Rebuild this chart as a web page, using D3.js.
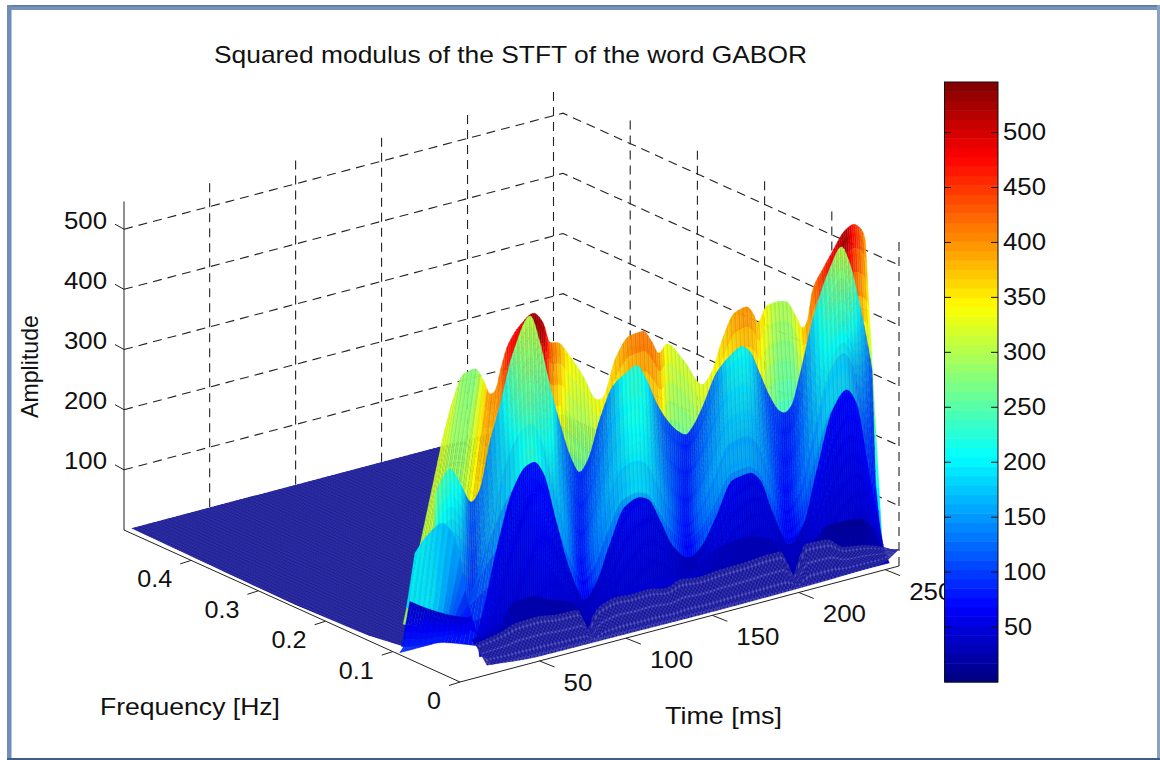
<!DOCTYPE html>
<html><head><meta charset="utf-8">
<script src="https://cdn.jsdelivr.net/npm/d3@7/dist/d3.min.js"></script>
<style>html,body{margin:0;padding:0;background:#fff;overflow:hidden}svg{display:block}text{font-family:"Liberation Sans",Arial,sans-serif;fill:#111}</style>
</head><body><svg id="c" width="1160" height="760"></svg>
<script>
// ---- tick labels and titles
const titleText = "Squared modulus of the STFT of the word GABOR";
const timeTicks = [50,100,150,200,250];
const freqTicks = [0,0.1,0.2,0.3,0.4];
const ampTicks = [100,200,300,400,500];
const barTicks = [50,100,150,200,250,300,350,400,450,500];
const wallFreqs = [0,0.1,0.2,0.3,0.4];
const ampMax = 546;

// ---- crest A (rear ridge)
const tA=[13.7,19.5,25.3,32,36.8,41.1,43.6,47.4,51.3,58,65.7,71.5,75.4,80.2,86.9,94.6,102.4,105.3,113.9,121.6,129.3,134.2,138.6,142.9,152.5,164,168.9,175.6,182.3,189.1,192.9,195.8,200.6,206.4,212.2,217.9,221.8,224.1,227.5,233.3,239.1,245.9,250.7,256,258];
const zA=[376,433,470,474,453,425,428,467,500,526,541,521,485,481,454,415,370,368,433,461,463,443,419,431,398,348,364,417,453,458,445,426,450,453,449,420,398,405,458,487,513,541,548,535,517];
const cA=[320,325,285,275,330,400,400,420,470,490,540,530,440,400,345,330,335,345,380,410,420,420,400,340,320,330,340,370,395,405,400,375,340,305,300,330,370,390,420,460,490,535,480,430,390];
const tAf=[8,30,42,55,70,258], fAf=[.095,.09,.06,.024,.024,.024], zAf=[45,20,4,5,5,5], cAf=[290,310,290,200,150,150];
// ---- crest B
const tB=[4,6,13.7,19.5,26.3,31,36.8,42.6,50.3,60,65.8,71.5,77.3,84.1,88.9,93.7,100.4,108.1,115.8,121.6,127.4,133.2,139,145.7,150.5,154.4,160.1,167.9,175.6,182.3,187.1,192.9,198.7,204.5,207.4,211.2,216,223.7,233.4,240.1,244.9,249.7,254.6,258];
const zB=[278,298,326,299,262,279,353,409,492,546,497,421,355,289,264,282,343,393,409,417,389,346,314,289,280,291,320,369,391,402,391,350,307,278,273,281,327,416,492,524,494,435,364,306];
const cB=[330,260,230,210,115,130,150,185,270,305,290,240,150,110,90,100,120,165,215,225,200,145,110,100,85,95,115,145,195,205,195,145,105,95,85,90,115,185,270,305,290,215,150,110];
// ---- shoulder inside B, just above crest C
const tBm=[4,15,25.6,30.1,36.8,46.4,54.2,58.4,63.8,71.5,79.2,87.9,94.6,101.9,111.2,118.7,124.5,131.2,138.9,148.6,155.3,164,173.6,183.3,189,196.7,206.4,214.1,221.8,231.4,239.1,244.9,252.6,258];
const zBm=[120,120,105,150,235,330,365,370,345,255,170,110,135,195,255,262,255,215,165,135,150,195,250,255,240,178,115,140,225,325,350,325,195,120];
const cBm=[130,130,90,130,160,190,225,235,215,175,150,75,125,155,180,195,190,165,130,75,120,150,165,165,155,130,70,110,150,190,190,165,100,75];
const tBf=[4,25,38,50,88,121,150,183,207,240,258], fBf=[.09,.09,.06,.02,.024,.024,.024,.024,.024,.024,.024], zBf=[3,3,4,5,5,5,5,5,5,5,5], cBf=[90,70,70,80,50,80,50,80,50,70,50];
// ---- left hump L
const tL=[5.1,11.9,20.5,26.3,31.1,35.9,41], zL=[178,201,216,198,153,71,17], cL=[200,190,175,165,150,90,50];
const tLf=[8,20,41], zLf=[75,55,20], cLf=[190,190,60];
// ---- left low shelf
const tS=[8,17.8,33.1,43.7], zS=[88,69,45,33], cS=[38,40,42,50];
const tSf=[5.2,17.6,29.2,44.6], zSf=[12,6,5,5], cSf=[85,85,85,70];
// ---- crest C
const tC=[25.6,30.1,36.8,46.4,54.2,58.4,63.8,71.5,79.2,87.9,94.6,101.9,111.2,118.7,124.5,131.2,138.9,148.6,155.3,164,173.6,183.3,189,196.7,206.4,214.1,221.8,231.4,239.1,244.9,252.6,256.5];
const zC=[49,96,180,273,306,309,287,198,114,58,80,136,195,204,197,158,108,81,95,139,192,196,181,119,59,84,167,265,292,266,138,79];
const cC=[50,60,60,65,70,75,75,60,50,35,40,50,60,60,55,50,40,30,40,55,60,55,55,45,30,40,60,65,70,70,70,70];
const tCf=[23,258], zCf=[17,6], cCf=[40,35];
// ---- crest D
const tD=[16.5,32.9,40.6,50.2,61.8,73.4,82,94.6,110,125.4,138.9,148.5,158.2,173.6,187.1,200.5,212.1,223.7,241,248.7,253.9];
const zD=[53,65,96,99,85,73,58,66,70,70,65,74,95,103,92,68,65,87,84,62,30];
const cD=[40,35,25,25,22,25,40,45,50,50,45,40,35,30,30,40,35,15,12,25,40];
const tDf=[24,254], zDf=[12,6], cDf=[30,30];
// ---- front mesh E
const tE=[16,30.2,40.1,51.6,63.2,74.8,78,81,84,88,97.9,105.4,115.2,126.8,134.3,145.9,157.4,170.7,184.6,192,196.5,200,203,207,219.3,228.5,240,251.7,258];
const zE=[50,58,67,68,63,62,45,24,45,58,66,64,65,59,67,63,66,67,70,70,48,24,48,71,69,50,44,32,22];
const tEf=[19.6,50,100,150,200,240,248.5,258], zEf=[16,8,7,6,7,10,12,28];

// ---- scales of the oblique projection
const xT=d3.scaleLinear([4,258],[460,899]), yT=d3.scaleLinear([4,258],[682,566]);
const xF=d3.scaleLinear([0,.5],[0,-336]), yF=d3.scaleLinear([0,.5],[0,-152]);
const zS_=d3.scaleLinear([0,ampMax],[0,-328.5]);
const xWall=d3.scaleLinear([0,250],[123.7,553.5]);
const barY=d3.scaleLinear([0,ampMax],[682,82]);
const px=(t,f)=>xT(t)+xF(f), py=(t,f,z)=>yT(t)+yF(f)+zS_(z);

const clamp=v=>Math.max(0,Math.min(1,v));
function jet(c){const v=clamp(c/ampMax);return [clamp(1.5-Math.abs(4*v-3)),clamp(1.5-Math.abs(4*v-2)),clamp(1.5-Math.abs(4*v-1))];}
const css=(a,k=1)=>`rgb(${a.map(x=>Math.round(x*255*k)).join(",")})`;

// monotone resampling of a read curve for tessellation
function mono(xs,ys){
  const n=xs.length; if(n<2)return ()=>ys[0];
  const h=[],s=[];for(let i=0;i<n-1;i++){h[i]=xs[i+1]-xs[i];s[i]=(ys[i+1]-ys[i])/h[i];}
  const m=[s[0]];for(let i=1;i<n-1;i++){m[i]=s[i-1]*s[i]<=0?0:2*s[i-1]*s[i]/(s[i-1]+s[i]);}m[n-1]=s[n-2];
  return x=>{x=Math.max(xs[0],Math.min(xs[n-1],x));let i=d3.bisectRight(xs,x)-1;if(i>=n-1)i=n-2;
    const d=(x-xs[i])/h[i],d2=d*d,d3_=d2*d;
    return (2*d3_-3*d2+1)*ys[i]+(d3_-2*d2+d)*h[i]*m[i]+(-2*d3_+3*d2)*ys[i+1]+(d3_-d2)*h[i]*m[i+1];};
}
function row(t,f,z,c){
  const fz=mono(t,z),fc=mono(t,c||t.map(()=>5)),ff=Array.isArray(f)?mono(t,f):()=>f;
  const a=t[0],b=t[t.length-1];
  return u=>{const q=a+(b-a)*u,ffv=ff(q);return {x:px(q,ffv),y:py(q,ffv,fz(q)),c:fc(q)};};
}
const svg=d3.select("#c");

// ---- window frame
svg.append("rect").attr("width",1160).attr("height",760).attr("fill","#fff");
svg.append("rect").attr("x",7).attr("y",5).attr("width",1153).attr("height",5).attr("fill","#7793ba");
svg.append("rect").attr("x",7).attr("y",5).attr("width",1153).attr("height",1.5).attr("fill","#5b7ba6");
svg.append("rect").attr("x",7).attr("y",5).attr("width",4.5).attr("height",755).attr("fill","#6f8db5");
svg.append("rect").attr("x",1157).attr("y",5).attr("width",3).attr("height",755).attr("fill","#8ba3c3");
svg.append("rect").attr("x",7).attr("y",758).attr("width",1153).attr("height",2).attr("fill","#3f5f88");

// ---- grid walls
const grid=svg.append("g").attr("fill","none").attr("stroke","#222").attr("stroke-width",1.1).attr("stroke-dasharray","9 6");
const wallLeft=(x,z)=>py(4,.5,z)-(x-xT(4)-xF(.5))*0.2652;
ampTicks.forEach(a=>{
  grid.append("path").attr("d",d3.line()([[px(4,.5),py(4,.5,a)],[px(258,.5),py(258,.5,a)],[px(258,0),py(258,0,a)]]));
});
timeTicks.forEach(t=>{const x=xWall(t);
  grid.append("line").attr("x1",x).attr("x2",x).attr("y1",wallLeft(x,0)).attr("y2",wallLeft(x,ampMax));});
wallFreqs.forEach(f=>{
  grid.append("line").attr("x1",px(258,f)).attr("x2",px(258,f)).attr("y1",py(258,f,0)).attr("y2",py(258,f,ampMax));});

// ---- axes
const ax=svg.append("g").attr("stroke","#222").attr("stroke-width",1).attr("fill","none");
ax.append("path").attr("d",d3.line()([[px(4,.5),py(4,.5,ampMax)],[px(4,.5),py(4,.5,0)],[px(4,0),py(4,0,0)],[px(258,0),py(258,0,0)]]));
timeTicks.forEach(t=>ax.append("line").attr("x1",px(t,0)).attr("y1",py(t,0,0)).attr("x2",px(t,0)+15).attr("y2",py(t,0,0)+6));
freqTicks.forEach(f=>ax.append("line").attr("x1",px(4,f)).attr("y1",py(4,f,0)).attr("x2",px(4,f)-11).attr("y2",py(4,f,0)+3.5));
ampTicks.forEach(a=>ax.append("line").attr("x1",px(4,.5)).attr("y1",py(4,.5,a)).attr("x2",px(4,.5)-9).attr("y2",py(4,.5,a)-5));

// ---- floor plane (navy mesh)
const floorEdge=[[8,.5],[258,.5],[258,.09],[12,.105],[8,.148],[6,.25]];
const floorD=d3.line()(floorEdge.map(([t,f])=>[px(t,f),py(t,f,0)]))+"Z";
svg.append("clipPath").attr("id","fl").append("path").attr("d",floorD);
const floor=svg.append("g").attr("clip-path","url(#fl)");
floor.append("path").attr("fill","#2c2ca2").attr("d",floorD);
const meshF=d3.range(.09,.5,.0035), meshT=d3.range(6,258,2.4);
floor.append("path").attr("fill","none").attr("stroke","#14147e").attr("stroke-width",.7).attr("stroke-opacity",.8).attr("stroke-dasharray","3 2")
  .attr("d",meshF.map(f=>`M${px(6,f)},${py(6,f,0)}L${px(258,f)},${py(258,f,0)}`).join(""));
floor.append("path").attr("fill","none").attr("stroke","#3c3cb4").attr("stroke-width",.5).attr("stroke-opacity",.6)
  .attr("d",meshT.map(t=>`M${px(t,.5)},${py(t,.5,0)}L${px(t,.09)},${py(t,.09,0)}`).join(""));

// ---- surface strips painted back to front
function strip(top,bot,nc,nr,opt={}){
  const g=svg.append("g"),cells=[];
  for(let i=0;i<nc;i++){const u0=i/nc,u1=(i+1)/nc,T0=top(u0),T1=top(u1),B0=bot(u0),B1=bot(u1);
    for(let j=0;j<nr;j++){const v0=j/nr,v1=(j+1)/nr,L=(a,b,v)=>a+(b-a)*v;
      const vm=(v0+v1)/2,c=(T0.c+T1.c)/2*(1-vm)+(B0.c+B1.c)/2*vm;
      let fill;
      if(opt.mesh){const band=j%5===2&&j<nr-2; fill=band?((i%2)?"#5858bc":"#2c2ca4"):((i+j)%2?"#1a1a92":"#3636b0");}
      else fill=css(jet(c),i%2?1:.93);
      cells.push({d:`M${L(T0.x,B0.x,v0)},${L(T0.y,B0.y,v0)}L${L(T1.x,B1.x,v0)},${L(T1.y,B1.y,v0)}L${L(T1.x,B1.x,v1)},${L(T1.y,B1.y,v1)}L${L(T0.x,B0.x,v1)},${L(T0.y,B0.y,v1)}Z`,fill});
    }}
  g.selectAll("path").data(cells).join("path").attr("d",d=>d.d).attr("fill",d=>d.fill).attr("stroke",d=>d.fill).attr("stroke-width",.3);
}
strip(row(tA,.05,zA,cA),row(tAf,fAf,zAf,cAf),212,14);
const rowBm=row(tBm,.035,zBm,cBm);
strip(row(tB,.04,zB,cB),rowBm,220,10);
strip(rowBm,row(tBf,fBf,zBf,cBf),220,5);
strip(row(tL,.07,zL,cL),row(tLf,.09,zLf,cLf),22,10);
strip(row(tS,.085,zS,cS),row(tSf,.09,zSf,cSf),24,6);
strip(row(tC,.03,zC,cC),row(tCf,.02,zCf,cCf),195,12);
strip(row(tD,.015,zD,cD),row(tDf,.004,zDf,cDf),200,6);
strip(row(tE,.008,zE),row(tEf,0,zEf),230,16,{mesh:true});

// ---- text
function label(x,y,s,len,rot){
  const t=svg.append("text").attr("font-size",24).attr("textLength",len).attr("lengthAdjust","spacingAndGlyphs").text(s);
  if(rot)t.attr("transform",`translate(${x},${y}) rotate(-90)`);else t.attr("x",x).attr("y",y);
}
label(214,63,titleText,593);
label(100,715,"Frequency [Hz]",180);
label(665,724,"Time [ms]",117);
label(38,418,"Amplitude",103,true);
ampTicks.forEach(a=>label(64,py(4,.5,a)-0.5,String(a),43));
timeTicks.forEach(t=>label(px(t,0)+24,py(t,0,0)+30,String(t),String(t).length*14.4));
freqTicks.forEach(f=>{const s=String(f),len=f===0?14:35;label(px(4,f)-19-len,py(4,f,0)+27,s,len);});

// ---- colour bar
const bar=svg.append("g");
const levels=d3.range(64);
bar.selectAll("rect").data(levels).join("rect")
  .attr("x",944.5).attr("width",53.5)
  .attr("y",d=>barY((d+1)/64*ampMax)).attr("height",d=>barY(d/64*ampMax)-barY((d+1)/64*ampMax)+.5)
  .attr("fill",d=>css(jet((d+.5)/64*ampMax)));
bar.append("rect").attr("x",944.5).attr("y",82).attr("width",53.5).attr("height",600).attr("fill","none").attr("stroke","#111").attr("stroke-width",1);
barTicks.forEach(b=>{
  bar.append("line").attr("x1",944.5).attr("x2",951).attr("y1",barY(b)).attr("y2",barY(b)).attr("stroke","#111");
  bar.append("line").attr("x1",991).attr("x2",998).attr("y1",barY(b)).attr("y2",barY(b)).attr("stroke","#111");
  label(b<100?1004:1003,barY(b)+7.5,String(b),b<100?28:43);
});
</script></body></html>
